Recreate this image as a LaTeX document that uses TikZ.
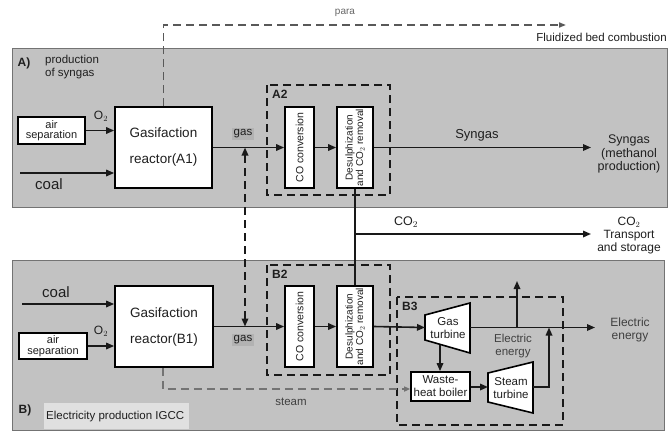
\documentclass[tikz,border=0pt]{standalone}
\usepackage{fontspec}
\setmainfont{Liberation Sans}
\usetikzlibrary{arrows.meta}
\begin{document}
\begin{tikzpicture}[x=1pt,y=-1pt,
  panel/.style={fill=black!24,draw=black!55,line width=1pt},
  blk/.style={draw=black,fill=white,line width=1.7pt,inner sep=0pt},
  flow/.style={line width=1.6pt,draw=black!90,-{Triangle[length=8pt,width=6.5pt]}},
  plainline/.style={line width=1.6pt,draw=black!90},
  grp/.style={draw=black!90,line width=1.7pt,dash pattern=on 8pt off 5pt},
  txt/.style={font=\fontsize{12.5}{14}\selectfont,text=black!88,align=center,inner sep=0pt},
  big/.style={font=\fontsize{13.5}{15}\selectfont,text=black!88,align=center,inner sep=0pt},
  small/.style={font=\fontsize{11.5}{12.5}\selectfont,text=black!88,align=center,inner sep=0pt},
  rot/.style={font=\fontsize{10}{10.5}\selectfont,text=black!88,align=center,inner sep=0pt,rotate=90},
  tag/.style={font=\bfseries\fontsize{12}{13}\selectfont,text=black!88,inner sep=0pt}
]
\useasboundingbox (0,0) rectangle (669,437);
\fill[white] (0,0) rectangle (669,437);

% panels
\draw[panel] (12,48) rectangle (667,207);
\draw[panel] (12,260) rectangle (664,430);

% ---------- Panel A ----------
\node[tag] (tA) at (24,63) {A)};
\node[small,align=left,anchor=north west] (tAtxt) at (45,55) {production\\of syngas};

\node[blk,minimum width=67pt,minimum height=27pt] (airA) at (51.5,130.5) {};
\node[small,font=\fontsize{11}{10.5}\selectfont] (airAt) at (airA.center) {air\\separation};
\node[blk,minimum width=97pt,minimum height=81pt] (reacA) at (163.5,147.5) {};
\node[big,font=\fontsize{13.5}{26}\selectfont] (reacAt) at (reacA.center) {Gasifaction\\reactor(A1)};
\node[small,font=\fontsize{12}{13}\selectfont] (o2A) at (101,116) {O$_2$};
\coordinate (coalAs) at (20,173);
\node[big,font=\fontsize{15}{16}\selectfont] (coalA) at (49,184) {coal};
\draw[flow] (airA.east) -- (airA.east -| reacA.west);
\draw[flow] (coalAs) -- (coalAs -| reacA.west);

\draw[grp] (267,85) rectangle (390,195);
\node[tag,anchor=north west] (A2) at (272,90) {A2};
\node[blk,minimum width=29pt,minimum height=81pt] (coA) at (299.5,147.5) {};
\node[rot,font=\fontsize{10.5}{11}\selectfont] (coAt) at (coA.center) {CO conversion};
\node[blk,minimum width=36pt,minimum height=81pt] (desA) at (355,147.5) {};
\node[rot] (desAt) at (desA.center) {Desulphization\\and CO$_2$ removal};

\node[small,fill=black!30,inner sep=2pt] (gasA) at (243,134) {gas};
\draw[flow] (reacA.east) -- (coA.west);
\draw[flow] (coA.east) -- (desA.west);
\coordinate (synEnd) at (591,147.5);
\draw[flow] (desA.east) -- (synEnd);
\node[txt,font=\fontsize{13}{14}\selectfont] (synL) at (477,135) {Syngas};
\node[txt,font=\fontsize{12.5}{13.5}\selectfont] (synR) at (629,154) {Syngas\\(methanol\\production)};

% para line
\coordinate (paraC) at (163.5,25);
\coordinate (paraEnd) at (566,25);
\draw[draw=black!65,line width=1.6pt,dash pattern=on 8pt off 5pt,-{Triangle[length=7pt,width=5pt]}]
  (reacA.north) -- (paraC) -- (paraEnd);
\node[font=\fontsize{10}{10}\selectfont,text=black!60,inner sep=0pt] (para) at (345,13) {para};
\node[txt,font=\fontsize{11.5}{13}\selectfont,anchor=east] (fbc) at (667,37) {Fluidized bed combustion};

% ---------- Panel B ----------
\node[tag] (tB) at (25,410) {B)};
\node[small,fill=black!12,minimum width=143pt,minimum height=26pt,anchor=north west,align=left,inner sep=2pt] (tBtxt) at (44,403) {Electricity production IGCC\hspace*{3pt}};

\node[blk,minimum width=98pt,minimum height=81pt] (reacB) at (164,326.5) {};
\node[big,font=\fontsize{13.5}{26}\selectfont] (reacBt) at (reacB.center) {Gasifaction\\reactor(B1)};
\node[blk,minimum width=68pt,minimum height=26pt] (airB) at (53,346) {};
\node[small,font=\fontsize{11}{10.5}\selectfont] (airBt) at (airB.center) {air\\separation};
\node[small,font=\fontsize{12}{13}\selectfont] (o2B) at (101,331) {O$_2$};
\coordinate (coalBs) at (22,304);
\node[big,font=\fontsize{15}{16}\selectfont] (coalB) at (56,292) {coal};
\draw[flow] (airB.east) -- (airB.east -| reacB.west);
\draw[flow] (coalBs) -- (coalBs -| reacB.west);

\draw[grp] (267,265) rectangle (390,375);
\node[tag,anchor=north west] (B2) at (272,270) {B2};
\node[blk,minimum width=29pt,minimum height=81pt] (coB) at (299.5,326.5) {};
\node[rot,font=\fontsize{10.5}{11}\selectfont] (coBt) at (coB.center) {CO conversion};
\node[blk,minimum width=36pt,minimum height=81pt] (desB) at (355,326.5) {};
\node[rot] (desBt) at (desB.center) {Desulphization\\and CO$_2$ removal};

\node[small,fill=black!30,inner sep=2pt] (gasB) at (243,340) {gas};
\draw[flow] (reacB.east) -- (coB.west);
\draw[flow] (coB.east) -- (desB.west);

% gas exchange (dashed, both directions)
\coordinate (gx1) at (245,147.5);
\coordinate (gx2) at (245,326.5);
\draw[grp,{Triangle[length=8pt,width=6.5pt]}-{Triangle[length=8pt,width=6.5pt]}] (gx1) -- (gx2);

% CO2
\draw[plainline] (desA.south) -- (desB.north);
\coordinate (co2s) at (355,234);
\coordinate (co2End) at (591,234);
\draw[flow] (co2s) -- (co2End);
\node[txt] (co2L) at (406,222) {CO$_2$};
\node[txt,font=\fontsize{12}{13}\selectfont] (co2R) at (629,236) {CO$_2$\\Transport\\and storage};

% B3 group
\draw[grp] (397,297) rectangle (563,425);
\node[tag,anchor=north west] (B3) at (402,302) {B3};

% gas turbine
\coordinate (gtL) at (425,327.5);
\draw[line width=1.6pt,fill=white] (425,315) -- (470,303) -- (470,353) -- (425,340) -- cycle;
\node[small,font=\fontsize{11.5}{13}\selectfont] (gasT) at (448,328) {Gas\\turbine};
\coordinate (gtR) at (470,327.5);
\coordinate (gtB) at (440,345);

\draw[flow] (desB.east) -- (gtL);
\coordinate (elEnd) at (595,327.5);
\draw[flow] (gtR) -- (elEnd);
\coordinate (upS) at (517,327.5);
\coordinate (upE) at (517,281);
\draw[flow] (upS) -- (upE);
\node[small,font=\fontsize{11.5}{13}\selectfont,text=black!75] (elIn) at (513,346) {Electric\\energy};
\node[txt,font=\fontsize{12}{13.5}\selectfont,text=black!75] (elOut) at (630,330) {Electric\\energy};

% waste heat boiler
\node[blk,minimum width=59pt,minimum height=29pt] (whb) at (440.5,386.5) {};
\node[small,font=\fontsize{11.5}{13}\selectfont] (whbt) at (whb.center) {Waste-\\heat boiler};
\draw[flow] (gtB) -- (gtB |- whb.north);

% steam turbine
\draw[line width=1.6pt,fill=white] (488,373) -- (533,362) -- (533,413) -- (488,402) -- cycle;
\node[small,font=\fontsize{11.5}{13}\selectfont] (stT) at (511,388) {Steam\\turbine};
\coordinate (stL) at (488,387);
\coordinate (stR) at (533,387);
\coordinate (stC) at (549,387);
\coordinate (stE) at (549,327.5);
\draw[flow] (whb.east |- stL) -- (stL);
\draw[flow] (stR) -- (stC) -- (stE);

% steam line
\coordinate (stm1) at (163,389);
\draw[draw=black!55,line width=1.6pt,dash pattern=on 8pt off 5pt,-{Triangle[length=6pt,width=5pt]}]
  (reacB.south -| stm1) -- (stm1) -- (stm1 -| whb.west);
\node[small,text=black!75] (steam) at (291,402) {steam};

\end{tikzpicture}
\end{document}
